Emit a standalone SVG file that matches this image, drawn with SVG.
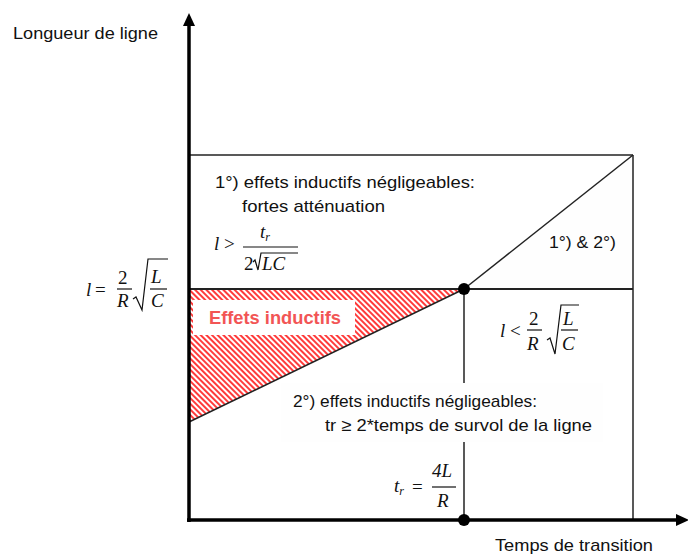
<svg xmlns="http://www.w3.org/2000/svg" width="688" height="556" viewBox="0 0 688 556">
<defs>
<style>
.t{font-family:"Liberation Sans",Arial,sans-serif;font-size:17px;fill:#111}
.m{font-family:"Liberation Serif","Times New Roman",serif;font-style:italic;font-size:19px;fill:#111}
.mu{font-family:"Liberation Serif","Times New Roman",serif;font-size:19px;fill:#111}
.sub{font-size:12px}
.ax{stroke:#000;stroke-width:3.5;fill:none}
.bx{stroke:#222;stroke-width:1.5;fill:none}
.fr{stroke:#111;stroke-width:1.2;fill:none}
.dot{fill:#000}
</style>
<pattern id="hatch" width="4" height="4" patternUnits="userSpaceOnUse" patternTransform="rotate(-45)">
<rect width="4" height="4" fill="#fff"/>
<rect width="2" height="4" fill="#ff3b3b"/>
</pattern>
</defs>
<rect width="688" height="556" fill="#fff"/>

<g id="inductive-region">
<polygon points="189,289 464,289 189,422" fill="url(#hatch)"/>
<rect x="193" y="300" width="162" height="35" fill="#fff"/>
<text x="275" y="324" text-anchor="middle" font-family="Liberation Sans,Arial,sans-serif" font-weight="bold" font-size="18" fill="#f25555" textLength="132" lengthAdjust="spacingAndGlyphs">Effets inductifs</text>
</g>

<g id="region12-bg">
<polygon points="464,289 633,155 633,289" fill="#fefefe"/>
</g>

<g id="connectors">
<line class="bx" x1="189" y1="155" x2="633" y2="155"/>
<line class="bx" x1="633" y1="155" x2="633" y2="520"/>
<line x1="189" y1="289" x2="633" y2="289" stroke="#222" stroke-width="2"/>
<line class="bx" x1="464" y1="289" x2="464" y2="520"/>
<line class="bx" x1="464" y1="289" x2="633" y2="155"/>
<line class="bx" x1="464" y1="289" x2="189" y2="422"/>
<line class="ax" x1="189" y1="22" x2="189" y2="522"/>
<polygon points="189,13 183,26 195,26" fill="#000"/>
<line class="ax" x1="187" y1="520" x2="678" y2="520"/>
<polygon points="689,520 676,514 676,526" fill="#000"/>
</g>

<g id="dots">
<circle class="dot" cx="464" cy="289" r="6"/>
<circle class="dot" cx="464" cy="520" r="6"/>
</g>

<g id="axis-labels">
<text class="t" x="13" y="39" textLength="145" lengthAdjust="spacingAndGlyphs">Longueur de ligne</text>
<text class="t" x="495" y="551" textLength="158" lengthAdjust="spacingAndGlyphs">Temps de transition</text>
</g>

<g id="region1">
<text class="t" x="215" y="188" textLength="260" lengthAdjust="spacingAndGlyphs">1°) effets inductifs négligeables:</text>
<text class="t" x="242" y="212" textLength="143" lengthAdjust="spacingAndGlyphs">fortes atténuation</text>
<text class="m" x="214" y="250" font-size="20">l</text>
<text class="mu" x="224" y="250">&gt;</text>
<text class="m" x="260" y="238">t<tspan class="sub" dy="3">r</tspan></text>
<line class="fr" x1="243" y1="247" x2="298" y2="247"/>
<text class="mu" x="244" y="270">2</text>
<path class="fr" d="M253,262 L255,260 L258,270 L261,253 L298,253"/>
<text class="m" x="262" y="270">LC</text>
</g>

<g id="region12">
<text class="t" x="549" y="248" textLength="67" lengthAdjust="spacingAndGlyphs">1°) &amp; 2°)</text>
</g>

<g id="formula-left">
<text class="m" x="86" y="296" font-size="20">l</text>
<text class="mu" x="95" y="296">=</text>
<text class="mu" x="118" y="284">2</text>
<line class="fr" x1="117" y1="289" x2="132" y2="289"/>
<text class="m" x="117" y="307">R</text>
<path class="fr" d="M133,299 L136,297 L142,310 L148,259 L168,259"/>
<text class="m" x="151" y="283">L</text>
<line class="fr" x1="150" y1="289" x2="167" y2="289"/>
<text class="m" x="151" y="307">C</text>
</g>

<g id="formula-right">
<text class="m" x="500" y="337" font-size="20">l</text>
<text class="mu" x="510" y="337">&lt;</text>
<text class="mu" x="529" y="325">2</text>
<line class="fr" x1="527" y1="330" x2="542" y2="330"/>
<text class="m" x="527" y="350">R</text>
<path class="fr" d="M547,340 L550,338 L555,354 L561,305 L579,305"/>
<text class="m" x="563" y="325">L</text>
<line class="fr" x1="561" y1="330" x2="578" y2="330"/>
<text class="m" x="562" y="350">C</text>
</g>

<g id="region2">
<rect x="281" y="383" width="322" height="59" fill="#fefefe"/>
<text class="t" x="293" y="407" textLength="244" lengthAdjust="spacingAndGlyphs">2°) effets inductifs négligeables:</text>
<text class="t" x="325" y="431" textLength="267" lengthAdjust="spacingAndGlyphs">tr ≥ 2*temps de survol de la ligne</text>
</g>

<g id="formula-tr">
<text class="m" x="394" y="492">t<tspan class="sub" dy="3">r</tspan></text>
<text class="mu" x="412" y="493">=</text>
<text class="m" x="432" y="477">4L</text>
<line class="fr" x1="432" y1="487" x2="456" y2="487"/>
<text class="m" x="437" y="507">R</text>
</g>
</svg>
